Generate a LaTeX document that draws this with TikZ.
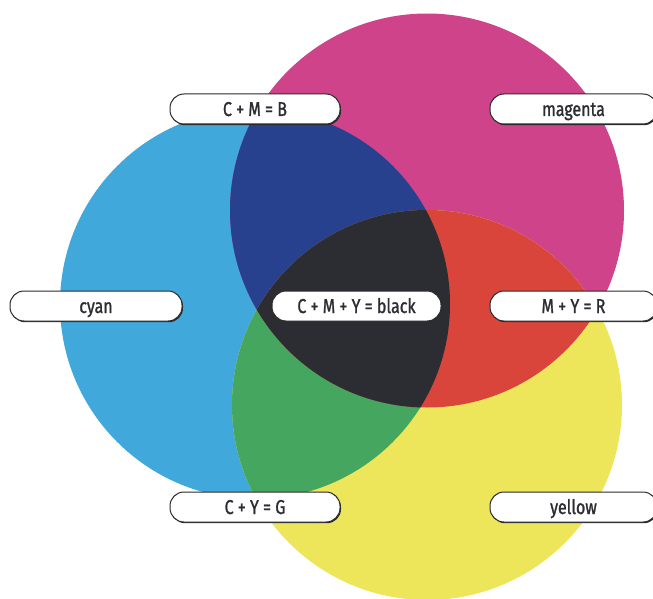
\documentclass[tikz,border=0pt]{standalone}
\usepackage{fontspec}
\setmainfont{Fira Sans}[FakeStretch=0.8,FakeBold=1.2]
\definecolor{cCyan}{HTML}{41A8DC}
\definecolor{cMag}{HTML}{CE4389}
\definecolor{cYel}{HTML}{EDE65A}
\definecolor{cBlue}{HTML}{27418F}
\definecolor{cRed}{HTML}{D9453B}
\definecolor{cGreen}{HTML}{45A660}
\definecolor{cBlack}{HTML}{2C2D33}
\definecolor{cEdge}{HTML}{2A2A2A}
\begin{document}
\begin{tikzpicture}[x=1pt,y=-1pt,
  pill/.style={draw=cEdge,line width=1pt,fill=white,rounded corners=14pt,
    minimum height=30pt,inner sep=0pt,text height=14pt,text depth=0pt,
    text=cBlack,font=\fontsize{20}{20}\selectfont},
  pillshadow/.style={fill=cEdge,rounded corners=14pt,minimum height=30pt,inner sep=0pt}]
\useasboundingbox (0,0) rectangle (653,599);
\def\cC{(255,304) circle[radius=195]}
\def\cM{(427,210.5) circle[radius=197]}
\def\cY{(427,405) circle[radius=195]}
\fill[cCyan] \cC;
\fill[cMag] \cM;
\fill[cYel] \cY;
\begin{scope}\clip \cC; \fill[cBlue] \cM; \end{scope}
\begin{scope}\clip \cC; \fill[cGreen] \cY; \end{scope}
\begin{scope}\clip \cM; \fill[cRed] \cY; \end{scope}
\begin{scope}\clip \cC; \clip \cM; \fill[cBlack] \cY; \end{scope}
% labels
\foreach \nm/\cx/\cy/\w/\t in {lcmb/255/109/170/{C + M = B},
  lmag/573.5/109/167/{magenta},
  lcyan/96/306/172/{cyan},
  lblack/356.5/306/169/{C + M + Y = black},
  lmyr/573.5/306/167/{M + Y = R},
  lcyg/255/507/170/{C + Y = G},
  lyel/573.5/507/167/{yellow}}{
  \node[pillshadow,minimum width=\w pt] at (\cx+1,\cy+1.2) {};
  \node[pill,minimum width=\w pt] (\nm) at (\cx,\cy) {\t};
}
\end{tikzpicture}
\end{document}
